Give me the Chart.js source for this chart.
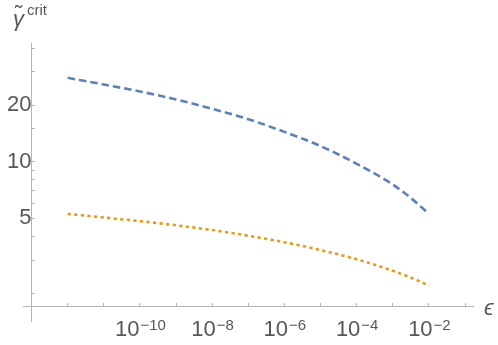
<!DOCTYPE html>
<html>
<head>
<meta charset="utf-8">
<script src="https://cdn.jsdelivr.net/npm/chart.js@4.4.1/dist/chart.umd.min.js"></script>
<style>
  html, body { margin: 0; padding: 0; background: #fff; }
  #wrap { width: 498px; height: 345px; }
</style>
</head>
<body>
<div id="wrap"><canvas id="myChart"></canvas></div>
<script>
// epsilon values (x)
const epsilon = [1e-12, 1e-11, 1e-10, 1e-9, 1e-8, 1e-7, 1e-6, 1e-5, 1e-4, 1e-3, 3.16e-3, 1e-2];
// gamma crit, dashed blue curve
const dashedVals = [27.9, 25.7, 23.6, 21.4, 19.1, 16.8, 14.4, 12.1, 9.74, 7.56, 6.41, 5.28];
// gamma crit, dotted orange curve
const dottedVals = [5.28, 5.05, 4.83, 4.59, 4.33, 4.04, 3.73, 3.39, 3.03, 2.63, 2.42, 2.20];

const xTicks = [1e-12, 1e-11, 1e-10, 1e-9, 1e-8, 1e-7, 1e-6, 1e-5, 1e-4, 1e-3, 1e-2, 1e-1];
const xLabelValues = [1e-10, 1e-8, 1e-6, 1e-4, 1e-2];
const xLabelPowers = ['\u221210', '\u22128', '\u22126', '\u22124', '\u22122'];
const yTicks = [2, 3, 4, 5, 6, 7, 8, 9, 10, 15, 20, 30, 40];
const yLabelValues = [5, 10, 20];

const axisGray = '#b5b5b5';
const textGray = '#575757';
const FONT = '"Liberation Sans", Arial, sans-serif';

const toPoints = (vals) => {
    const pts = [];
    for (let i = 0; i < epsilon.length; i++) {
        pts.push({x: epsilon[i], y: vals[i]});
    }
    return pts;
}

const extraText = {
    id: 'extraText',
    afterDraw(chart) {
        const ctx = chart.ctx;
        const xs = chart.scales.x;
        const ys = chart.scales.y;
        const axisY = ys.getPixelForValue(1.694);
        ctx.save();
        ctx.fillStyle = textGray;
        ctx.textBaseline = 'alphabetic';
        ctx.textAlign = 'left';
        // x tick labels with superscripts
        for (let i = 0; i < xLabelValues.length; i++) {
            const px = xs.getPixelForValue(xLabelValues[i]);
            ctx.font = '22px ' + FONT;
            const wMain = ctx.measureText('10').width;
            ctx.font = '15px ' + FONT;
            const wSup = ctx.measureText(xLabelPowers[i]).width;
            const left = px - (wMain + wSup) / 2;
            ctx.font = '22px ' + FONT;
            ctx.fillText('10', left, axisY + 29.5);
            ctx.font = '15px ' + FONT;
            ctx.fillText(xLabelPowers[i], left + wMain + 1, axisY + 23);
        }
        // axis titles
        ctx.font = 'italic 22px ' + FONT;
        ctx.fillText('\u03f5', 484, axisY + 8);
        ctx.fillText('\u03b3', 13, 26);
        ctx.font = '22px ' + FONT;
        ctx.fillText('\u02dc', 15, 21);
        ctx.font = '15px ' + FONT;
        ctx.fillText('crit', 27, 15);
        ctx.restore();
    }
};

const data = {
    datasets: [{
        label: 'dashed',
        data: toPoints(dashedVals),
        borderColor: '#5e81b5',
        borderWidth: 2.6,
        borderDash: [7.5, 4],
        pointRadius: 0,
        cubicInterpolationMode: 'monotone',
        fill: false
    }, {
        label: 'dotted',
        data: toPoints(dottedVals),
        borderColor: '#e19c24',
        borderWidth: 2.6,
        borderDash: [3.3, 3.3],
        pointRadius: 0,
        cubicInterpolationMode: 'monotone',
        fill: false
    }]
};

const config = {
    type: 'line',
    data: data,
    options: {
        responsive: false,
        animation: false,
        maintainAspectRatio: false,
        layout: { padding: { left: 23, right: 25, top: 43, bottom: 23 } },
        plugins: { legend: { display: false }, tooltip: { enabled: false } },
        scales: {
            x: {
                type: 'logarithmic',
                min: 5.81e-14,
                max: 0.166,
                position: { y: 1.694 },
                afterBuildTicks: (scale) => { scale.ticks = xTicks.map(v => ({value: v})); },
                grid: { drawOnChartArea: false, tickLength: -4, color: axisGray, tickColor: axisGray },
                border: { color: axisGray, width: 1 },
                ticks: { display: false }
            },
            y: {
                type: 'logarithmic',
                min: 1.41,
                max: 42.7,
                position: { x: 1e-13 },
                afterBuildTicks: (scale) => { scale.ticks = yTicks.map(v => ({value: v})); },
                grid: { drawOnChartArea: false, tickLength: -4, color: axisGray, tickColor: axisGray },
                border: { color: axisGray, width: 1 },
                ticks: {
                    padding: 10,
                    color: textGray,
                    font: { size: 22, family: FONT },
                    autoSkip: false,
                    callback: (v) => yLabelValues.includes(v) ? String(v) : ''
                }
            }
        }
    },
    plugins: [extraText]
};

const canvas = document.getElementById('myChart');
canvas.width = 498;
canvas.height = 345;
const myChart = new Chart(canvas, config);
</script>
</body>
</html>
